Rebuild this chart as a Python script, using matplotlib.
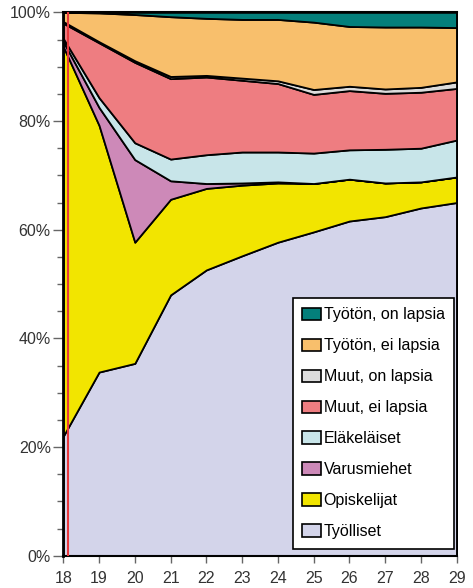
import numpy as np
import matplotlib
matplotlib.use("Agg")
import matplotlib.pyplot as plt
from matplotlib.ticker import MultipleLocator, FuncFormatter

plt.rcParams['font.family'] = ['Liberation Sans', 'DejaVu Sans']

# ikä (vuotta)
ages = [18, 19, 20, 21, 22, 23, 24, 25, 26, 27, 28, 29]

# osuudet (%), alimmasta kerroksesta ylimpään
tyolliset = [22.0, 33.8, 35.4, 48.0, 52.6, 55.2, 57.7, 59.6, 61.6, 62.4, 64.0, 65.0]
opiskelijat = [71.7, 45.4, 22.3, 17.6, 15.0, 13.0, 10.9, 8.9, 7.7, 6.2, 4.8, 4.7]
varusmiehet = [0.9, 3.3, 15.2, 3.4, 0.9, 0.4, 0.2, 0.0, 0.0, 0.0, 0.0, 0.0]
elakelaiset = [0.6, 1.8, 3.1, 4.0, 5.3, 5.7, 5.5, 5.6, 5.4, 6.2, 6.2, 6.8]
muut_ei = [2.8, 10.1, 14.8, 14.8, 14.3, 13.2, 12.6, 10.8, 10.9, 10.3, 10.3, 9.5]
muut_on = [0.3, 0.2, 0.3, 0.4, 0.3, 0.4, 0.5, 0.9, 0.8, 0.8, 0.9, 1.2]
tyoton_ei = [1.7, 5.3, 8.5, 11.0, 10.5, 10.8, 11.3, 12.4, 11.0, 11.4, 11.1, 10.0]
tyoton_on = [0.0, 0.1, 0.4, 0.8, 1.1, 1.3, 1.3, 1.8, 2.6, 2.7, 2.7, 2.8]

labels = ['Työlliset', 'Opiskelijat', 'Varusmiehet', 'Eläkeläiset',
          'Muut, ei lapsia', 'Muut, on lapsia', 'Työtön, ei lapsia', 'Työtön, on lapsia']
colors = ['#d3d4ea', '#f2e500', '#cd89b8', '#c8e5e9',
          '#ee7d81', '#dcdcdc', '#f8bf6c', '#047f7b']

red_line_x = 18.14

fig = plt.figure(figsize=(4.73, 5.88), dpi=100)
ax = fig.add_axes([0.1338, 0.0549, 0.8317, 0.9241])

polys = ax.stackplot(ages, tyolliset, opiskelijat, varusmiehet, elakelaiset,
                     muut_ei, muut_on, tyoton_ei, tyoton_on,
                     colors=colors, labels=labels,
                     edgecolor='black', linewidth=1.3)

ax.axvline(red_line_x, color='#e8383d', linewidth=1.5, zorder=5)

ax.set_xlim(18, 29)
ax.set_ylim(0, 100)
ax.set_xticks(ages)
ax.yaxis.set_major_locator(MultipleLocator(20))
ax.yaxis.set_minor_locator(MultipleLocator(5))
ax.yaxis.set_major_formatter(FuncFormatter(lambda v, p: f'{int(v)}%'))

ax.tick_params(axis='y', which='major', length=7, width=1, color='#666666',
               labelsize=11.5, labelcolor='#333333', pad=2)
ax.tick_params(axis='y', which='minor', length=4, width=1, color='#666666')
ax.tick_params(axis='x', which='major', length=5, width=1, color='#666666',
               labelsize=11.5, labelcolor='#333333', pad=6)

for side in ['left', 'bottom', 'right', 'top']:
    ax.spines[side].set_color('black')
ax.spines['left'].set_linewidth(2)
ax.spines['bottom'].set_linewidth(1.5)
ax.spines['right'].set_linewidth(1.2)
ax.spines['top'].set_linewidth(1.5)

handles, labs = ax.get_legend_handles_labels()
leg = ax.legend(handles[::-1], labs[::-1], loc='lower right',
                bbox_to_anchor=(0.994, 0.013), fontsize=11.5,
                frameon=True, fancybox=False, framealpha=1,
                edgecolor='black', handlelength=1.2, handleheight=0.8,
                handletextpad=0.15, labelspacing=1.0, borderpad=0.6,
                borderaxespad=0)
leg.get_frame().set_linewidth(1.2)
for h in leg.legend_handles:
    h.set_edgecolor('black')
    h.set_linewidth(1.2)

fig.savefig('out.png', dpi=100)
